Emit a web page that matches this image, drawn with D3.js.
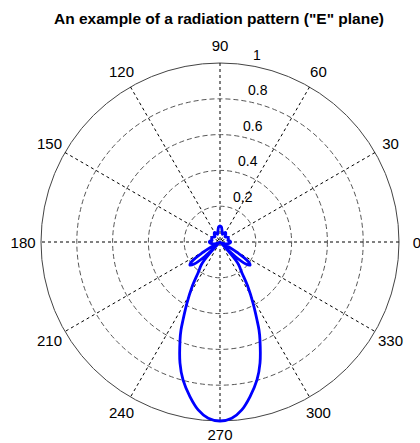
<!DOCTYPE html>
<html>
<head>
<meta charset="utf-8">
<script src="https://cdn.jsdelivr.net/npm/d3@7"></script>
<style>
  body { margin: 0; background: #fff; }
  text { font-family: Arial, "Liberation Sans", sans-serif; }
</style>
</head>
<body>
<div class="polarChart"></div>
<script>
// pattern: angle in degrees, normalised field
const theta = [0, 6, 12, 20, 30, 38, 46, 54, 60, 66, 72, 80, 85, 90, 95, 100, 108, 114, 120, 126, 134, 142, 150, 160, 168, 174,
  180, 186, 192, 198, 202, 206, 209, 211.5, 214.5, 217.5, 220.5, 223.5, 226, 226.5, 228, 230.4, 234.6, 238.1, 241.6, 244.6,
  246.1, 247.8, 251.7, 255, 259, 262.6, 266.2, 270, 273.8, 277.4, 281, 285, 288.3, 292.2, 293.9, 295.4, 298.4, 301.9, 305.4,
  309.6, 312, 313.5, 314, 316.5, 319.5, 322.5, 325.5, 328.5, 331, 334, 338, 342, 348, 354];
const rho = [0.06, 0.055, 0.045, 0.05, 0.052, 0.045, 0.04, 0.055, 0.062, 0.055, 0.045, 0.065, 0.085, 0.09, 0.085, 0.065, 0.045, 0.055, 0.062, 0.055, 0.04, 0.045, 0.052, 0.05, 0.045, 0.055,
  0.06, 0.055, 0.045, 0.035, 0.025, 0.015, 0.04, 0.12, 0.19, 0.212, 0.19, 0.12, 0.03, 0.0, 0.08, 0.16, 0.212, 0.296, 0.388, 0.482,
  0.538, 0.591, 0.712, 0.798, 0.88, 0.946, 0.987, 1.0, 0.987, 0.946, 0.88, 0.798, 0.712, 0.591, 0.538, 0.482, 0.388, 0.296, 0.212,
  0.16, 0.08, 0.0, 0.03, 0.12, 0.19, 0.212, 0.19, 0.12, 0.04, 0.015, 0.025, 0.035, 0.045, 0.055];

const ringTicks = [0.2, 0.4, 0.6, 0.8, 1];
const spokeAngles = [0, 30, 60, 90, 120, 150];
const angleLabels = [0, 30, 60, 90, 120, 150, 180, 210, 240, 270, 300, 330];
const title = 'An example of a radiation pattern ("E" plane)';

const width = 420, height = 443;
const cx = 220, cy = 242, R = 179;

const svg = d3.select(".polarChart")
  .append("svg")
  .attr("width", width)
  .attr("height", height);

const r = d3.scaleLinear().domain([0, 1]).range([0, R]);
const rad = d => d * Math.PI / 180;
const px = (a, v) => cx + r(v) * Math.cos(rad(a));
const py = (a, v) => cy - r(v) * Math.sin(rad(a));

const g = svg.append("g");

// rings
g.selectAll(".ring")
  .data(ringTicks)
  .enter()
  .append("circle")
  .attr("cx", cx)
  .attr("cy", cy)
  .attr("r", d => r(d))
  .attr("fill", "none")
  .attr("stroke", d => d === 1 ? "#444" : "#555")
  .attr("stroke-width", 1)
  .attr("stroke-dasharray", d => d === 1 ? null : "5,3");

// spokes through the centre
g.selectAll(".spoke")
  .data(spokeAngles)
  .enter()
  .append("line")
  .attr("x1", d => px(d, 1))
  .attr("y1", d => py(d, 1))
  .attr("x2", d => px(d + 180, 1))
  .attr("y2", d => py(d + 180, 1))
  .attr("stroke", "#000")
  .attr("stroke-width", 1)
  .attr("stroke-dasharray", "3,3");

// angle labels (270 nudged up so it stays inside the frame)
g.selectAll(".alabel")
  .data(angleLabels)
  .enter()
  .append("text")
  .attr("x", d => px(d, 1.1))
  .attr("y", d => py(d, 1.1) - (d === 270 ? 4 : 0))
  .attr("text-anchor", "middle")
  .attr("dominant-baseline", "central")
  .attr("font-size", 15)
  .text(d => d);

// radius labels at 82 degrees
g.selectAll(".rlabel")
  .data(ringTicks)
  .enter()
  .append("text")
  .attr("x", d => px(82, d + 0.01))
  .attr("y", d => py(82, d + 0.01) - 3)
  .attr("font-size", 14)
  .style("white-space", "pre")
  .text(d => "  " + d);

// pattern
const pts = theta.map((t, i) => [px(t, rho[i]), py(t, rho[i])]);
g.append("path")
  .attr("d", d3.line().curve(d3.curveCatmullRomClosed.alpha(0.5))(pts))
  .attr("fill", "none")
  .attr("stroke", "#0000ff")
  .attr("stroke-width", 2.8)
  .attr("stroke-linejoin", "round");

svg.append("text")
  .attr("x", 219)
  .attr("y", 24)
  .attr("text-anchor", "middle")
  .attr("font-size", 15.5)
  .attr("font-weight", "bold")
  .text(title);
</script>
</body>
</html>
